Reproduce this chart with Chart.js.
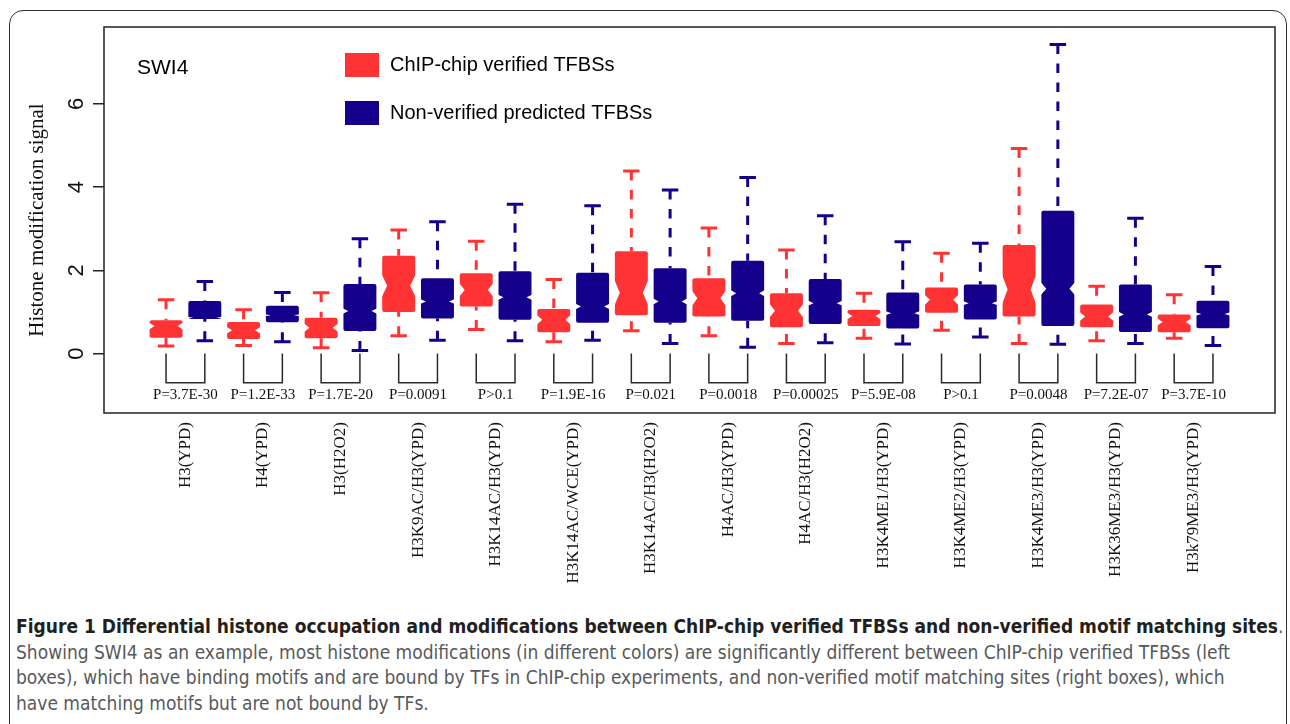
<!DOCTYPE html>
<html>
<head>
<meta charset="utf-8">
<script src="https://cdn.jsdelivr.net/npm/chart.js@4.4.1/dist/chart.umd.min.js"></script>
<style>
  body { margin: 0; background: #fff; }
  #wrap { position: relative; width: 1290px; height: 724px; overflow: hidden; background: #fff; }
  #frame { position: absolute; left: 9px; top: 10px; width: 1278px; height: 740px;
           border: 1.5px solid #333; border-radius: 14px; box-sizing: border-box; }
  #chart { position: absolute; left: 0; top: 0; }
  #caption { position: absolute; left: 16px; top: 614px; width: 1272px;
             font-family: "DejaVu Sans Condensed", "Liberation Sans Narrow", sans-serif;
             font-size: 19px; line-height: 25.5px; color: #58595b; white-space: nowrap; }
  #caption b { color: #231f20; }
</style>
</head>
<body>
<div id="wrap">
  <div id="frame"></div>
  <canvas id="chart" width="1290" height="612"></canvas>
  <div id="caption">
    <b>Figure 1 Differential histone occupation and modifications between ChIP-chip verified TFBSs and non-verified motif matching sites</b>.<br>
    Showing SWI4 as an example, most histone modifications (in different colors) are significantly different between ChIP-chip verified TFBSs (left<br>
    boxes), which have binding motifs and are bound by TFs in ChIP-chip experiments, and non-verified motif matching sites (right boxes), which<br>
    have matching motifs but are not bound by TFs.
  </div>
</div>
<script>
const categories = ['H3(YPD)', 'H4(YPD)', 'H3(H2O2)', 'H3K9AC/H3(YPD)', 'H3K14AC/H3(YPD)',
  'H3K14AC/WCE(YPD)', 'H3K14AC/H3(H2O2)', 'H4AC/H3(YPD)', 'H4AC/H3(H2O2)', 'H3K4ME1/H3(YPD)',
  'H3K4ME2/H3(YPD)', 'H3K4ME3/H3(YPD)', 'H3K36ME3/H3(YPD)', 'H3k79ME3/H3(YPD)'];
const pValues = ['P=3.7E-30', 'P=1.2E-33', 'P=1.7E-20', 'P=0.0091', 'P>0.1', 'P=1.9E-16', 'P=0.021',
  'P=0.0018', 'P=0.00025', 'P=5.9E-08', 'P>0.1', 'P=0.0048', 'P=7.2E-07', 'P=3.7E-10'];

// ChIP-chip verified TFBSs
const redLow  = [0.18, 0.19, 0.14, 0.43, 0.58, 0.28, 0.55, 0.43, 0.24, 0.37, 0.56, 0.24, 0.31, 0.37];
const redQ1   = [0.38, 0.35, 0.37, 1.00, 1.13, 0.51, 0.92, 0.89, 0.63, 0.66, 0.98, 0.89, 0.63, 0.51];
const redMed  = [0.66, 0.56, 0.62, 1.63, 1.53, 0.81, 1.46, 1.33, 1.03, 0.90, 1.29, 1.54, 0.89, 0.76];
const redQ3   = [0.80, 0.76, 0.86, 2.35, 1.93, 1.07, 2.46, 1.81, 1.45, 1.05, 1.59, 2.61, 1.18, 0.94];
const redHigh = [1.29, 1.05, 1.46, 2.97, 2.70, 1.78, 4.39, 3.02, 2.49, 1.45, 2.41, 4.93, 1.62, 1.41];
const redCount = 50;

// non-verified predicted TFBSs
const blueLow  = [0.31, 0.28, 0.07, 0.32, 0.31, 0.32, 0.24, 0.15, 0.26, 0.23, 0.40, 0.22, 0.24, 0.19];
const blueQ1   = [0.83, 0.75, 0.54, 0.84, 0.81, 0.74, 0.74, 0.79, 0.71, 0.60, 0.82, 0.66, 0.52, 0.61];
const blueMed  = [0.86, 0.92, 1.02, 1.25, 1.35, 1.13, 1.25, 1.45, 1.21, 0.97, 1.21, 1.56, 0.94, 0.95];
const blueQ3   = [1.26, 1.15, 1.67, 1.81, 1.98, 1.94, 2.05, 2.23, 1.79, 1.47, 1.66, 3.43, 1.66, 1.27];
const blueHigh = [1.73, 1.47, 2.76, 3.17, 3.59, 3.55, 3.93, 4.23, 3.31, 2.69, 2.65, 7.43, 3.25, 2.09];
const blueCount = 700;

const yTicks = [0, 2, 4, 6];

const RED = '#ff3333';
const BLUE = '#14008a';
const SERIF = '"Liberation Serif", "Times New Roman", serif';
const SANS = '"Liberation Sans", Arial, sans-serif';

const series = [
  { label: 'ChIP-chip verified TFBSs', color: RED, lo: redLow, q1: redQ1, med: redMed, q3: redQ3, hi: redHigh, n: redCount },
  { label: 'Non-verified predicted TFBSs', color: BLUE, lo: blueLow, q1: blueQ1, med: blueMed, q3: blueQ3, hi: blueHigh, n: blueCount }
];

// boxes sit at 1..28, red then blue in each pair
const boxDecor = {
  id: 'boxDecor',
  afterDatasetsDraw(chart) {
    const { ctx, chartArea: a, scales: { y } } = chart;
    ctx.save();

    series.forEach((s, di) => {
      chart.getDatasetMeta(di).data.forEach((bar, i) => {
        const { x, width } = bar.getProps(['x', 'width'], true);
        const half = width / 2;
        const conf = 1.58 * (s.q3[i] - s.q1[i]) / Math.sqrt(s.n);
        const ym = y.getPixelForValue(s.med[i]);
        const yc1 = y.getPixelForValue(s.med[i] + conf);
        const yc2 = y.getPixelForValue(s.med[i] - conf);
        const depth = width * 0.15;

        // notch
        ctx.fillStyle = '#fff';
        ctx.beginPath();
        ctx.moveTo(x - half - 1, yc1); ctx.lineTo(x - half + depth, ym); ctx.lineTo(x - half - 1, yc2);
        ctx.closePath(); ctx.fill();
        ctx.beginPath();
        ctx.moveTo(x + half + 1, yc1); ctx.lineTo(x + half - depth, ym); ctx.lineTo(x + half + 1, yc2);
        ctx.closePath(); ctx.fill();

        // whiskers, dashed from the staple in towards the box
        const yhi = y.getPixelForValue(s.hi[i]);
        const ylo = y.getPixelForValue(s.lo[i]);
        ctx.strokeStyle = s.color;
        ctx.lineWidth = 3;
        ctx.lineCap = 'butt';
        ctx.setLineDash([9.5, 9.5]);
        ctx.beginPath();
        ctx.moveTo(x, yhi); ctx.lineTo(x, y.getPixelForValue(s.q3[i]));
        ctx.moveTo(x, ylo); ctx.lineTo(x, y.getPixelForValue(s.q1[i]));
        ctx.stroke();
        ctx.setLineDash([]);

        // staples
        ctx.beginPath();
        ctx.moveTo(x - width / 4, yhi); ctx.lineTo(x + width / 4, yhi);
        ctx.moveTo(x - width / 4, ylo); ctx.lineTo(x + width / 4, ylo);
        ctx.stroke();
      });
    });

    // brackets with the test p-values
    const redBars = chart.getDatasetMeta(0).data;
    const blueBars = chart.getDatasetMeta(1).data;
    const yTop = y.getPixelForValue(0);
    const yBot = y.getPixelForValue(-0.7);
    const yText = y.getPixelForValue(-0.99);
    ctx.strokeStyle = '#2a2a2a';
    ctx.lineWidth = 1.5;
    ctx.fillStyle = '#111';
    ctx.font = '15px ' + SERIF;
    ctx.textAlign = 'center';
    ctx.textBaseline = 'middle';
    pValues.forEach((p, i) => {
      const xr = redBars[i].x, xb = blueBars[i].x;
      ctx.beginPath();
      ctx.moveTo(xr, yTop); ctx.lineTo(xr, yBot); ctx.lineTo(xb, yBot); ctx.lineTo(xb, yTop);
      ctx.stroke();
      ctx.fillText(p, (xr + xb) / 2, yText);
    });

    // plot frame
    ctx.lineWidth = 1.5;
    ctx.strokeStyle = '#222';
    ctx.strokeRect(a.left, a.top, a.right - a.left, a.bottom - a.top);

    // panel tag and legend
    ctx.textAlign = 'left';
    ctx.textBaseline = 'alphabetic';
    ctx.fillStyle = '#000';
    ctx.font = '21px ' + SANS;
    ctx.fillText('SWI4', a.left + 33, a.top + 47);
    ctx.font = '20px ' + SANS;
    ctx.textBaseline = 'middle';
    series.forEach((s, di) => {
      const top = a.top + 26 + di * 48;
      ctx.fillStyle = s.color;
      ctx.fillRect(a.left + 241, top, 34, 24);
      ctx.fillStyle = '#000';
      ctx.fillText(s.label, a.left + 286, top + 12);
    });
    ctx.restore();
  }
};

new Chart(document.getElementById('chart'), {
  type: 'bar',
  data: {
    datasets: series.map((s, di) => ({
      label: s.label,
      data: s.q1.map((q, i) => ({ x: 2 * i + 1 + di, y: [q, s.q3[i]] })),
      backgroundColor: s.color,
      borderWidth: 0,
      borderRadius: 2,
      borderSkipped: false,
      grouped: false,
      barPercentage: 0.85,
      categoryPercentage: 1
    }))
  },
  options: {
    responsive: false,
    animation: false,
    devicePixelRatio: 1,
    layout: { padding: { top: 27, right: 15, left: 0, bottom: 0 } },
    plugins: { legend: { display: false }, tooltip: { enabled: false } },
    scales: {
      x: {
        type: 'linear',
        offset: false,
        min: -0.6,
        max: 29.6,
        grid: { display: false, drawTicks: false, offset: false },
        border: { display: false },
        afterBuildTicks: s => { s.ticks = categories.map((c, i) => ({ value: 2 * i + 1.5 })); },
        afterFit: s => { s.height = 199; },
        ticks: {
          autoSkip: false,
          minRotation: 90,
          maxRotation: 90,
          padding: 9,
          color: '#111',
          font: { family: SERIF, size: 17 },
          callback: (v, i) => categories[i]
        }
      },
      y: {
        min: -1.43,
        max: 7.85,
        grid: { drawOnChartArea: false, drawTicks: true, tickLength: 11, color: '#222', lineWidth: 1.5 },
        border: { display: false },
        afterBuildTicks: s => { s.ticks = yTicks.map(v => ({ value: v })); },
        afterFit: s => { s.width = 104; },
        ticks: {
          minRotation: 90,
          maxRotation: 90,
          crossAlign: 'center',
          padding: 10,
          color: '#111',
          font: { family: SANS, size: 22 }
        },
        title: {
          display: true,
          text: 'Histone modification signal',
          color: '#111',
          font: { family: SERIF, size: 21 },
          padding: { top: 25, bottom: 0 }
        }
      }
    }
  },
  plugins: [boxDecor]
});
</script>
</body>
</html>
